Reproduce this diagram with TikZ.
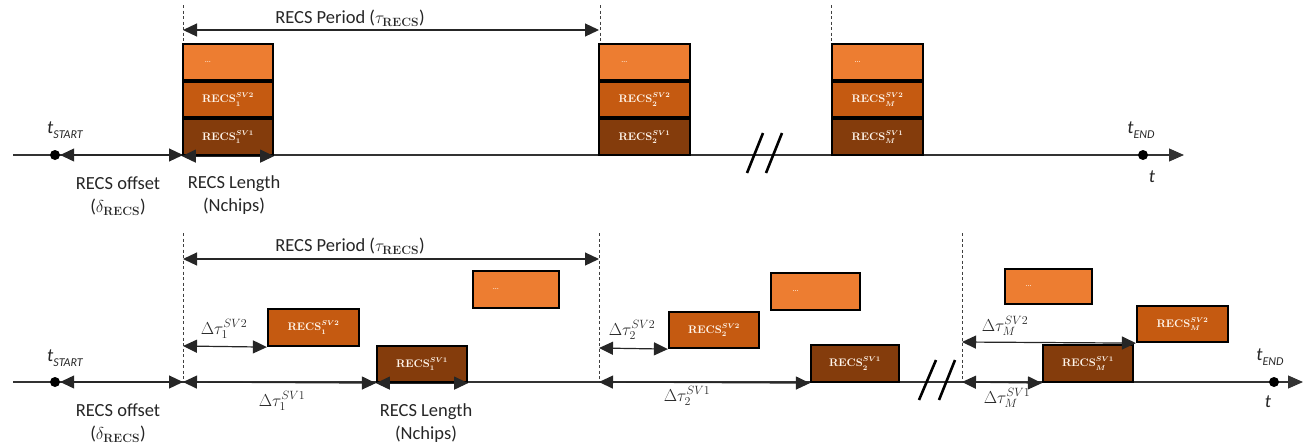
\documentclass[tikz,border=0pt]{standalone}
\usepackage[no-math]{fontspec}
\setmainfont{Carlito}
\usetikzlibrary{arrows.meta}

\definecolor{orA}{HTML}{ED7D31}
\definecolor{orB}{HTML}{C55A11}
\definecolor{orC}{HTML}{843C0C}
\definecolor{ink}{HTML}{262626}

% time instant label: italic t with an italic text subscript
\newcommand{\tmark}[1]{{\itshape t}\raisebox{-0.28em}{\fontsize{12}{12}\selectfont\itshape #1}}
% label of one RECS slot
\newcommand{\recs}[2]{$\mathbf{RECS}^{SV#2}_{\mathbf{#1}}$}
\newcommand{\recsM}[1]{$\mathbf{RECS}^{SV#1}_{M}$}

\tikzset{
  tline/.style={draw=black!80, line width=1.1pt},
  endarrow/.style={-{Triangle[length=15pt,width=13pt]}},
  dimarrow/.style={draw=ink, line width=1.2pt,
    {Triangle[length=14pt,width=13pt]}-{Triangle[length=14pt,width=13pt]}},
  guide/.style={draw=black!75, line width=0.8pt, dash pattern=on 3pt off 2.5pt},
  slot/.style={draw=black, line width=2.2pt, inner sep=0pt, text=white!92!orange,
    font=\fontsize{10.5}{12}\selectfont\boldmath},
  dotsbox/.style={slot, fill=orA},
  sv2box/.style={slot, fill=orB},
  sv1box/.style={slot, fill=orC},
  lbl/.style={text=ink, font=\fontsize{18.5}{23}\selectfont, align=center, inner sep=0pt},
  evt/.style={circle, fill=black, inner sep=0pt, minimum size=10pt},
  brk/.style={line width=2.6pt, draw=black},
}

\newcommand{\dotstext}{{\fontsize{8}{8}\selectfont\ldots}\hspace*{40pt}}

\begin{document}
\begin{tikzpicture}[x=1pt, y=-1pt]
\useasboundingbox (0,0) rectangle (1308,445);

% ---------------- upper timeline: all satellites at the same offset ----------------
\coordinate (A0) at (13,155);
\coordinate (Aend) at (1184,155);
\coordinate (Ag1t) at (183,5);   \coordinate (Ag1) at (183,155);
\coordinate (Ag2t) at (600,5);   \coordinate (Ag2) at (600,155);
\coordinate (Ag3t) at (831,5);   \coordinate (Ag3) at (831,155);
\coordinate (Ap1) at (183,30);   \coordinate (Ap2) at (599,30);

\draw[guide] (Ag1t) -- (Ag1);
\draw[guide] (Ag2t) -- (Ag2);
\draw[guide] (Ag3t) -- (Ag3);
\draw[tline, endarrow] (A0) -- (Aend);

\node[sv1box, minimum width=90pt, minimum height=36pt] (A1s1) at (228,137) {\recs{1}{1}};
\node[sv2box, minimum width=90pt, minimum height=36pt] (A1s2) at (228,99.5) {\recs{1}{2}};
\node[dotsbox, minimum width=90pt, minimum height=36pt] (A1d) at (228,62) {\dotstext};

\node[sv1box, minimum width=91pt, minimum height=36pt] (A2s1) at (644.5,137) {\recs{2}{1}};
\node[sv2box, minimum width=91pt, minimum height=36pt] (A2s2) at (644.5,99.5) {\recs{2}{2}};
\node[dotsbox, minimum width=91pt, minimum height=36pt] (A2d) at (644.5,62) {\dotstext};

\node[sv1box, minimum width=91pt, minimum height=36pt] (AMs1) at (877.5,137) {\recsM{1}};
\node[sv2box, minimum width=91pt, minimum height=36pt] (AMs2) at (877.5,99.5) {\recsM{2}};
\node[dotsbox, minimum width=91pt, minimum height=36pt] (AMd) at (877.5,62) {\dotstext};

\node[evt] (As) at (55,155) {};
\node[evt] (Ae) at (1143,155) {};

\draw[dimarrow] (As.east) -- (Ag1);
\draw[dimarrow] (A1s1.south west) -- (A1s1.south east);
\draw[dimarrow] (Ap1) -- (Ap2);

\draw[brk] (747,173) -- (763,133);
\draw[brk] (766,173) -- (782,133);

\node[lbl] (Ats) at (65,130) {\tmark{START}};
\node[lbl] (Aoff) at (118,196) {RECS offset\\($\delta_{\mathbf{RECS}}$)};
\node[lbl] (Alen) at (234,195) {RECS Length\\(Nchips)};
\node[lbl] (Aper) at (350,18) {RECS Period ($\tau_{\mathbf{RECS}}$)};
\node[lbl] (Ate) at (1141,130) {\tmark{END}};
\node[lbl] (At) at (1152,177) {\itshape t};

% ---------------- lower timeline: per-satellite delays ----------------
\coordinate (B0) at (13,382);
\coordinate (Bend) at (1303,382);
\coordinate (Bg1t) at (183,233);  \coordinate (Bg1) at (183,382);
\coordinate (Bg2t) at (599,233);  \coordinate (Bg2) at (599,382);
\coordinate (Bg3t) at (962,233);  \coordinate (Bg3) at (962,382);
\coordinate (Bp1) at (183,259);   \coordinate (Bp2) at (599,259);
\coordinate (B1a) at (183,346);
\coordinate (B2a) at (599,348);
\coordinate (BMa) at (962,342);

\draw[guide] (Bg1t) -- (Bg1);
\draw[guide] (Bg2t) -- (Bg2);
\draw[guide] (Bg3t) -- (Bg3);
\draw[tline, endarrow] (B0) -- (Bend);

\node[sv2box, minimum width=91pt, minimum height=37pt] (B1s2) at (313.5,327.5) {\recs{1}{2}};
\node[sv1box, minimum width=90pt, minimum height=36pt] (B1s1) at (422,364) {\recs{1}{1}};
\node[dotsbox, minimum width=86pt, minimum height=37pt] (B1d) at (516,289.5) {\dotstext};

\node[sv2box, minimum width=90pt, minimum height=36pt] (B2s2) at (714,330) {\recs{2}{2}};
\node[dotsbox, minimum width=89pt, minimum height=37pt] (B2d) at (815.5,291.5) {\dotstext};
\node[sv1box, minimum width=88pt, minimum height=37pt] (B2s1) at (855,363.5) {\recs{2}{1}};

\node[dotsbox, minimum width=87pt, minimum height=35pt] (BMd) at (1048.5,286.5) {\dotstext};
\node[sv2box, minimum width=91pt, minimum height=36pt] (BMs2) at (1182.5,324) {\recsM{2}};
\node[sv1box, minimum width=90pt, minimum height=37pt] (BMs1) at (1088,363.5) {\recsM{1}};

\node[evt] (Bs) at (55,382) {};
\node[evt] (Be) at (1274,382) {};

\draw[dimarrow] (Bs.east) -- (Bg1);
\draw[dimarrow] (Bp1) -- (Bp2);
\draw[dimarrow] (B1a) -- (B1s2.south west);
\draw[dimarrow] (Bg1) -- (B1s1.south west);
\draw[dimarrow] (B1s1.south west) -- (B1s1.south east);
\draw[dimarrow] (B2a) -- (B2s2.south west);
\draw[dimarrow] (Bg2) -- (B2s1.south west);
\draw[dimarrow] (BMa) -- (BMs2.south west);
\draw[dimarrow] (Bg3) -- (BMs1.south west);

\draw[brk] (919,400) -- (936,360);
\draw[brk] (939,400) -- (955,360);

\node[lbl] (Bts) at (65,358) {\tmark{START}};
\node[lbl] (Boff) at (118,423) {RECS offset\\($\delta_{\mathbf{RECS}}$)};
\node[lbl] (Blen) at (426,423) {RECS Length\\(Nchips)};
\node[lbl] (Bper) at (350,246) {RECS Period ($\tau_{\mathbf{RECS}}$)};
\node[lbl] (Bd12) at (224,329) {$\Delta\tau_1^{SV2}$};
\node[lbl] (Bd11) at (282,401) {$\Delta\tau_1^{SV1}$};
\node[lbl] (Bd22) at (632,330) {$\Delta\tau_2^{SV2}$};
\node[lbl] (Bd21) at (687,396) {$\Delta\tau_2^{SV1}$};
\node[lbl] (BdM2) at (1005,326) {$\Delta\tau_M^{SV2}$};
\node[lbl] (BdM1) at (1007,398) {$\Delta\tau_M^{SV1}$};
\node[lbl] (Bte) at (1270,357) {\tmark{END}};
\node[lbl] (Bt) at (1268,402) {\itshape t};
\end{tikzpicture}
\end{document}
